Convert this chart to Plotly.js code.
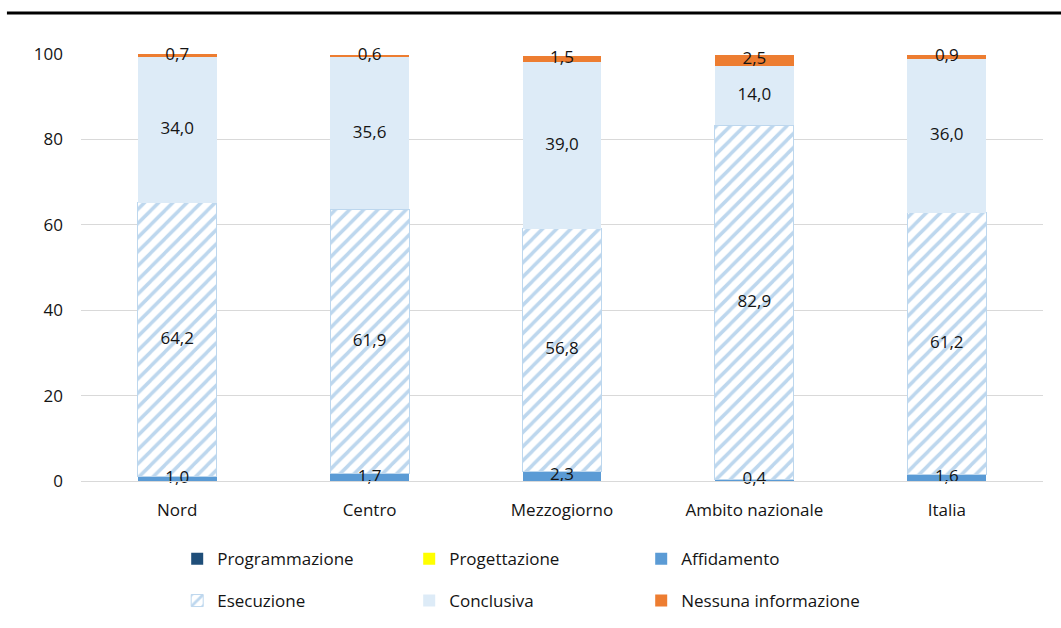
<!DOCTYPE html>
<html>
<head>
<meta charset="utf-8">
<script src="https://cdn.plot.ly/plotly-3.0.1.min.js"></script>
<style>html,body{margin:0;padding:0;background:#fff;}#chart{width:1061px;height:628px;}</style>
</head>
<body>
<div id="chart"></div>
<script>
const categories = ["Nord", "Centro", "Mezzogiorno", "Ambito nazionale", "Italia"];
const programmazione = [0, 0, 0, 0, 0];
const progettazione = [0, 0, 0, 0, 0];
const affidamento = [1.0, 1.7, 2.3, 0.4, 1.6];
const esecuzione = [64.2, 61.9, 56.8, 82.9, 61.2];
const conclusiva = [34.0, 35.6, 39.0, 14.0, 36.0];
const nessuna = [0.7, 0.6, 1.5, 2.5, 0.9];
const yTicks = [0, 20, 40, 60, 80, 100];

const FONT = "Open Sans, sans-serif";
const TXT = '#141414';
const fmt = v => v.toFixed(1).replace('.', ',');

function bar(name, values, marker, legend) {
  return {
    type: 'bar', name: name, x: categories, y: values,
    marker: marker, textposition: 'none', hoverinfo: 'none', legend: legend
  };
}

const series = [
  {name: 'Programmazione', v: programmazione, marker: {color: '#1f4e79'}, legend: 'legend', label: false},
  {name: 'Progettazione', v: progettazione, marker: {color: '#ffff00'}, legend: 'legend', label: false},
  {name: 'Affidamento', v: affidamento, marker: {color: '#5b9bd5'}, legend: 'legend', label: true},
  {name: 'Esecuzione', v: esecuzione, marker: {color: '#ffffff', line: {color: '#bdd7ee', width: 1},
      pattern: {shape: '/', fgcolor: '#bdd7ee', bgcolor: '#ffffff', size: 10, solidity: 0.35}}, legend: 'legend2', label: true},
  {name: 'Conclusiva', v: conclusiva, marker: {color: '#ddebf7'}, legend: 'legend2', label: true},
  {name: 'Nessuna informazione', v: nessuna, marker: {color: '#ed7d31'}, legend: 'legend2', label: true}
];

const data = series.map(s => bar(s.name, s.v, s.marker, s.legend));

// data labels at segment centres (computed from the stacked values)
const lx = [], ly = [], lt = [];
const base = categories.map(() => 0);
series.forEach(s => {
  s.v.forEach((val, i) => {
    if (s.label) { lx.push(categories[i]); ly.push(base[i] + val / 2); lt.push(fmt(val)); }
    base[i] += val;
  });
});
data.push({
  type: 'scatter', mode: 'text', x: lx, y: ly, text: lt,
  textposition: 'middle center', cliponaxis: false,
  textfont: {family: FONT, size: 17, color: TXT},
  showlegend: false, hoverinfo: 'none'
});

const legendBase = {
  orientation: 'h', xanchor: 'left', yanchor: 'middle',
  font: {family: FONT, size: 17, color: TXT},
  entrywidth: 187, entrywidthmode: 'pixels',
  traceorder: 'normal', bgcolor: 'rgba(0,0,0,0)'
};

const layout = {
  width: 1061, height: 628,
  margin: {l: 81, r: 18, t: 54, b: 147, autoexpand: false},
  paper_bgcolor: '#ffffff', plot_bgcolor: '#ffffff',
  barmode: 'stack', bargap: 0.59,
  font: {family: FONT, size: 17, color: TXT},
  showlegend: true,
  xaxis: {
    type: 'category', showline: true, linecolor: '#d9d9d9', linewidth: 1,
    ticks: '', ticklabelstandoff: 14, automargin: false,
    tickfont: {family: FONT, size: 17, color: TXT}, fixedrange: true
  },
  yaxis: {
    range: [0, 100], tickvals: yTicks, ticktext: yTicks.map(String),
    showgrid: true, gridcolor: '#d9d9d9', gridwidth: 1, zeroline: false, automargin: false,
    ticks: '', ticklabelstandoff: 17, tickfont: {family: FONT, size: 17, color: TXT},
    fixedrange: true
  },
  legend: Object.assign({}, legendBase, {x: 0.10, y: -0.183}),
  legend2: Object.assign({}, legendBase, {x: 0.10, y: -0.281}),
  shapes: [{
    type: 'line', xref: 'paper', yref: 'paper',
    x0: -0.077, x1: 1.02, y0: 1.096, y1: 1.096,
    line: {color: '#000000', width: 3}
  }]
};

Plotly.newPlot('chart', data, layout, {displayModeBar: false, staticPlot: true});
</script>
</body>
</html>
